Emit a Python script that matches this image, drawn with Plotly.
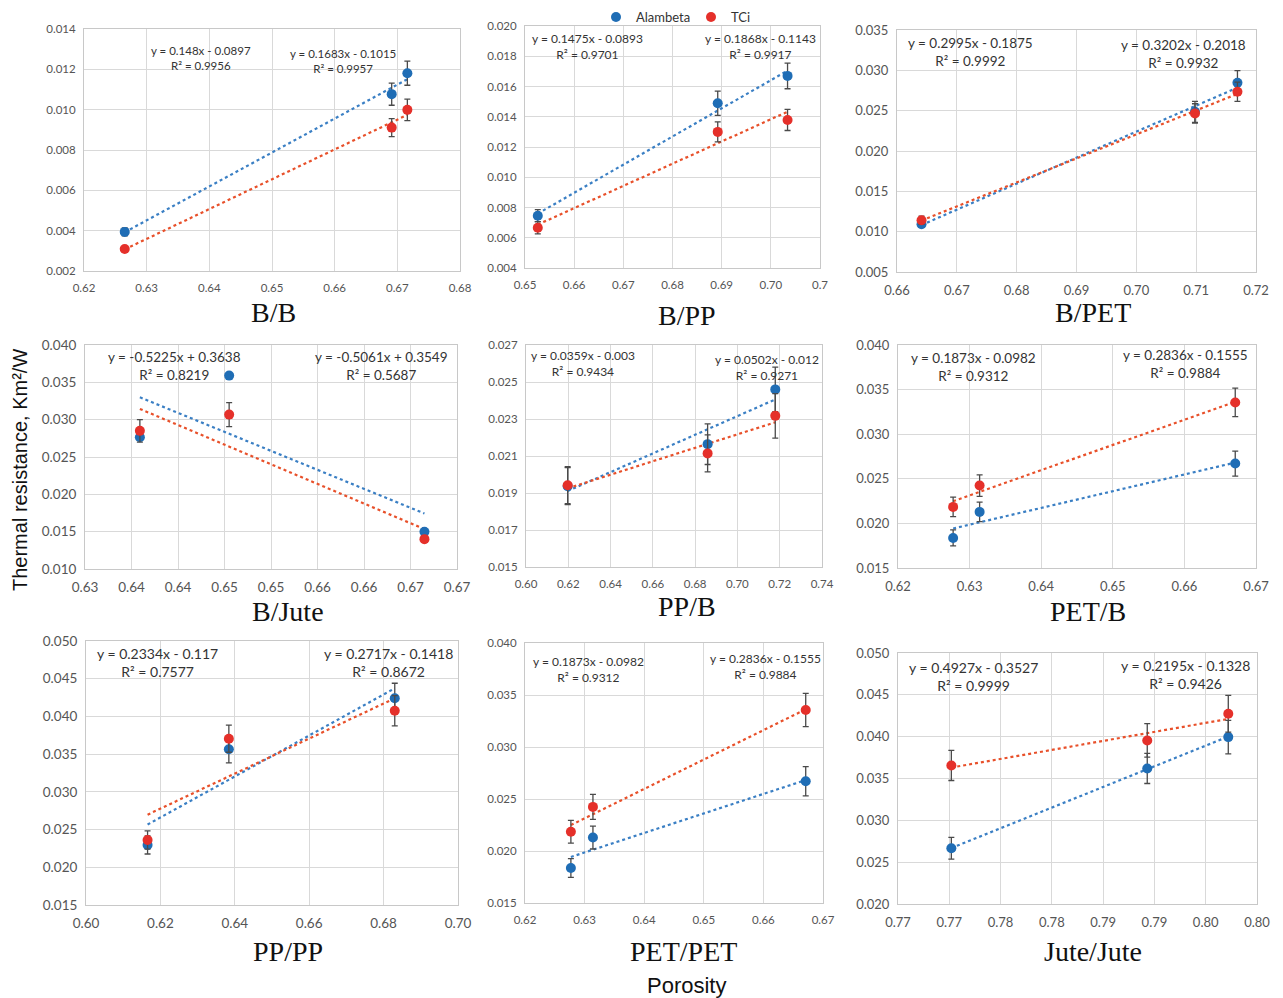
import numpy as np
import plotly.graph_objects as go

# ---------------- data ----------------
# B/B
BB_x = [0.6265, 0.6691, 0.6716]
BB_alambeta = [0.00394, 0.01077, 0.01181]
BB_alambeta_err = [0.0002, 0.00055, 0.0006]
BB_tci = [0.00309, 0.00911, 0.00999]
BB_tci_err = [0.0001, 0.00045, 0.00053]
# B/PP
BPP_x = [0.6526, 0.6892, 0.7034]
BPP_alambeta = [0.00746, 0.01489, 0.0167]
BPP_alambeta_err = [0.0004, 0.0008, 0.00085]
BPP_tci = [0.00666, 0.0130, 0.01379]
BPP_tci_err = [0.0004, 0.00066, 0.0007]
# B/PET
BPET_x = [0.6641, 0.7098, 0.7169]
BPET_alambeta = [0.01092, 0.02486, 0.02846]
BPET_alambeta_err = [0.0004, 0.0013, 0.0015]
BPET_tci = [0.01142, 0.02466, 0.02735]
BPET_tci_err = [0.0005, 0.0012, 0.0012]
# B/Jute
BJ_x = [0.6409, 0.6505, 0.6715]
BJ_alambeta = [0.02765, 0.0359, 0.01499]
BJ_alambeta_err = [0.0004, 0.0, 0.0003]
BJ_tci = [0.0285, 0.03068, 0.0140]
BJ_tci_err = [0.0015, 0.0016, 0.0004]
# PP/B
PPB_x = [0.6197, 0.6859, 0.7179]
PPB_alambeta = [0.01937, 0.02164, 0.0246]
PPB_alambeta_err = [0.001, 0.0011, 0.0012]
PPB_tci = [0.01942, 0.02114, 0.02317]
PPB_tci_err = [0.001, 0.001, 0.0012]
# PET/B
PETB_x = [0.6277, 0.6314, 0.6671]
PETB_alambeta = [0.01837, 0.02129, 0.02671]
PETB_alambeta_err = [0.0009, 0.0011, 0.0014]
PETB_tci = [0.02185, 0.02424, 0.03356]
PETB_tci_err = [0.0011, 0.0012, 0.0016]
# PP/PP
PPPP_x = [0.61655, 0.6384, 0.6830]
PPPP_alambeta = [0.02296, 0.03564, 0.0424]
PPPP_alambeta_err = [0.0012, 0.0018, 0.002]
PPPP_tci = [0.02362, 0.03705, 0.04076]
PPPP_tci_err = [0.0012, 0.0018, 0.002]
# PET/PET
PETPET_x = [0.6277, 0.6314, 0.6671]
PETPET_alambeta = [0.01837, 0.02129, 0.02671]
PETPET_alambeta_err = [0.0009, 0.0011, 0.0014]
PETPET_tci = [0.02185, 0.02424, 0.03356]
PETPET_tci_err = [0.0011, 0.0012, 0.0016]
# Jute/Jute
JJ_x = [0.7702, 0.7893, 0.7972]
JJ_alambeta = [0.02666, 0.0362, 0.03995]
JJ_alambeta_err = [0.0013, 0.0018, 0.002]
JJ_tci = [0.03656, 0.03955, 0.04274]
JJ_tci_err = [0.0018, 0.002, 0.0022]

panel_titles = ["B/B", "B/PP", "B/PET", "B/Jute", "PP/B", "PET/B", "PP/PP", "PET/PET", "Jute/Jute"]
eq_alambeta = ["y = 0.148x - 0.0897<br>R² = 0.9956", "y = 0.1475x - 0.0893<br>R² = 0.9701",
               "y = 0.2995x - 0.1875<br>R² = 0.9992", "y = -0.5225x + 0.3638<br>R² = 0.8219",
               "y = 0.0359x - 0.003<br>R² = 0.9434", "y = 0.1873x - 0.0982<br>R² = 0.9312",
               "y = 0.2334x - 0.117<br>R² = 0.7577", "y = 0.1873x - 0.0982<br>R² = 0.9312",
               "y = 0.4927x - 0.3527<br>R² = 0.9999"]
eq_tci = ["y = 0.1683x - 0.1015<br>R² = 0.9957", "y = 0.1868x - 0.1143<br>R² = 0.9917",
          "y = 0.3202x - 0.2018<br>R² = 0.9932", "y = -0.5061x + 0.3549<br>R² = 0.5687",
          "y = 0.0502x - 0.012<br>R² = 0.9271", "y = 0.2836x - 0.1555<br>R² = 0.9884",
          "y = 0.2717x - 0.1418<br>R² = 0.8672", "y = 0.2836x - 0.1555<br>R² = 0.9884",
          "y = 0.2195x - 0.1328<br>R² = 0.9426"]

x_ranges = [(0.62, 0.68), (0.65, 0.71), (0.66, 0.72), (0.635, 0.675), (0.60, 0.74),
            (0.62, 0.67), (0.60, 0.70), (0.62, 0.67), (0.765, 0.80)]
x_dticks = [0.01, 0.01, 0.01, 0.005, 0.02, 0.01, 0.02, 0.01, 0.005]
y_ranges = [(0.002, 0.014), (0.004, 0.020), (0.005, 0.035), (0.010, 0.040), (0.015, 0.027),
            (0.015, 0.040), (0.015, 0.050), (0.015, 0.040), (0.020, 0.050)]
y_dticks = [0.002, 0.002, 0.005, 0.005, 0.002, 0.005, 0.005, 0.005, 0.005]
x_ticktext = {1: ["0.65", "0.66", "0.67", "0.68", "0.69", "0.70", "0.7"],
              3: ["0.63", "0.64", "0.64", "0.65", "0.65", "0.66", "0.66", "0.67", "0.67"],
              8: ["0.77", "0.77", "0.78", "0.78", "0.79", "0.79", "0.80", "0.80"]}

panels = [
    (BB_x, BB_alambeta, BB_alambeta_err, BB_tci, BB_tci_err),
    (BPP_x, BPP_alambeta, BPP_alambeta_err, BPP_tci, BPP_tci_err),
    (BPET_x, BPET_alambeta, BPET_alambeta_err, BPET_tci, BPET_tci_err),
    (BJ_x, BJ_alambeta, BJ_alambeta_err, BJ_tci, BJ_tci_err),
    (PPB_x, PPB_alambeta, PPB_alambeta_err, PPB_tci, PPB_tci_err),
    (PETB_x, PETB_alambeta, PETB_alambeta_err, PETB_tci, PETB_tci_err),
    (PPPP_x, PPPP_alambeta, PPPP_alambeta_err, PPPP_tci, PPPP_tci_err),
    (PETPET_x, PETPET_alambeta, PETPET_alambeta_err, PETPET_tci, PETPET_tci_err),
    (JJ_x, JJ_alambeta, JJ_alambeta_err, JJ_tci, JJ_tci_err),
]

# ---------------- layout geometry (pixels) ----------------
W, H = 1283, 998
boxes = [(84, 460, 29, 271), (525, 820, 26, 268), (897, 1256, 30, 272),
         (85, 457, 345, 569), (526, 822, 345, 567), (898, 1256, 345, 568),
         (86, 458, 641, 905), (525, 823, 643, 903), (898, 1257, 653, 904)]
tick_sizes = [11.5, 11.5, 13, 13.5, 11.5, 13, 13.5, 11.5, 13]
ann_sizes = [11.5, 12, 13.5, 13.5, 12, 13.5, 14, 12, 14]
title_pos = [(273, 313), (687, 315), (1093, 313), (288, 611), (687, 606), (1088, 611),
             (288, 951), (683, 951), (1093, 951)]
ann_left = [(201, 58), (587, 47), (970, 52), (175, 366), (583, 364), (973, 367),
            (157, 662), (588, 669), (973, 676)]
ann_right = [(343, 61), (760, 47), (1183, 54), (382, 366), (767, 367), (1185, 364),
             (388, 662), (765, 666), (1185, 674)]

BLUE = "#1f6db5"
RED = "#e5302a"
BLUE_LINE = "#3a7fc4"
RED_LINE = "#e8502a"

fig = go.Figure()
layout = dict(width=W, height=H, margin=dict(l=0, r=0, t=0, b=0, pad=0, autoexpand=False),
              paper_bgcolor="white", plot_bgcolor="white", annotations=[])

for i, (xs, ya, ea, yt, et) in enumerate(panels):
    n = "" if i == 0 else str(i + 1)
    xa, ya_name = "x" + n, "y" + n
    # trend lines (least squares fit of the points)
    for ys, col in ((ya, BLUE_LINE), (yt, RED_LINE)):
        k, b = np.polyfit(xs, ys, 1)
        xl = np.array([min(xs), max(xs)])
        fig.add_trace(go.Scatter(x=xl, y=k * xl + b, mode="lines", xaxis=xa, yaxis=ya_name,
                                 line=dict(color=col, width=2.2, dash="dot"),
                                 showlegend=False, hoverinfo="skip"))
    for ys, es, col, name in ((ya, ea, BLUE, "Alambeta"), (yt, et, RED, "TCi")):
        fig.add_trace(go.Scatter(x=xs, y=ys, mode="markers", xaxis=xa, yaxis=ya_name,
                                 name=name, showlegend=(i == 1),
                                 marker=dict(color=col, size=10),
                                 error_y=dict(type="data", array=es, color="#4a4a4a",
                                              thickness=1.3, width=3)))
    l, r, t, btm = boxes[i]
    xaxis = dict(domain=[l / W, r / W], anchor=ya_name, range=list(x_ranges[i]),
                 tick0=x_ranges[i][0], dtick=x_dticks[i], tickformat=".2f",
                 showgrid=True, gridcolor="#d9d9d9", gridwidth=1,
                 showline=True, linecolor="#c8c8c8", linewidth=1, mirror=True,
                 zeroline=False, ticks="", automargin=False, ticklabelstandoff=6,
                 tickfont=dict(family="Lato", size=tick_sizes[i], color="#555555"))
    if i in x_ticktext:
        tv = list(np.arange(len(x_ticktext[i])) * x_dticks[i] + x_ranges[i][0])
        xaxis.update(tickmode="array", tickvals=tv, ticktext=x_ticktext[i])
    yaxis = dict(domain=[1 - btm / H, 1 - t / H], anchor=xa, range=list(y_ranges[i]),
                 tick0=y_ranges[i][0], dtick=y_dticks[i], tickformat=".3f",
                 showgrid=True, gridcolor="#d9d9d9", gridwidth=1,
                 showline=True, linecolor="#c8c8c8", linewidth=1, mirror=True,
                 zeroline=False, ticks="", automargin=False, ticklabelstandoff=5,
                 tickfont=dict(family="Lato", size=tick_sizes[i], color="#555555"))
    layout["xaxis" + n] = xaxis
    layout["yaxis" + n] = yaxis

    tx, ty = title_pos[i]
    layout["annotations"].append(dict(x=tx / W, y=1 - ty / H, xref="paper", yref="paper",
                                      text=panel_titles[i], showarrow=False,
                                      xanchor="center", yanchor="middle",
                                      font=dict(family="Liberation Serif", size=28, color="#111111")))
    for (ax_, ay_), txt in ((ann_left[i], eq_alambeta[i]), (ann_right[i], eq_tci[i])):
        layout["annotations"].append(dict(x=ax_ / W, y=1 - ay_ / H, xref="paper", yref="paper",
                                          text=txt, showarrow=False, xanchor="center",
                                          yanchor="middle", align="center",
                                          font=dict(family="Lato", size=ann_sizes[i], color="#333333")))

layout["annotations"].append(dict(x=20 / W, y=1 - 470 / H, xref="paper", yref="paper",
                                  text="Thermal resistance, Km²/W", textangle=-90, showarrow=False,
                                  xanchor="center", yanchor="middle",
                                  font=dict(family="Liberation Sans", size=20, color="#111111")))
layout["annotations"].append(dict(x=686 / W, y=1 - 985 / H, xref="paper", yref="paper",
                                  text="Porosity", showarrow=False, xanchor="center", yanchor="middle",
                                  font=dict(family="Liberation Sans", size=22, color="#111111")))
layout["legend"] = dict(orientation="h", x=596 / W, y=1 - 2 / H, xanchor="left", yanchor="top",
                        font=dict(family="Lato", size=13, color="#333333"),
                        entrywidth=50, entrywidthmode="pixels", itemwidth=30,
                        bgcolor="rgba(0,0,0,0)", tracegroupgap=0)

fig.update_layout(**layout)
fig.write_html("out.html")
